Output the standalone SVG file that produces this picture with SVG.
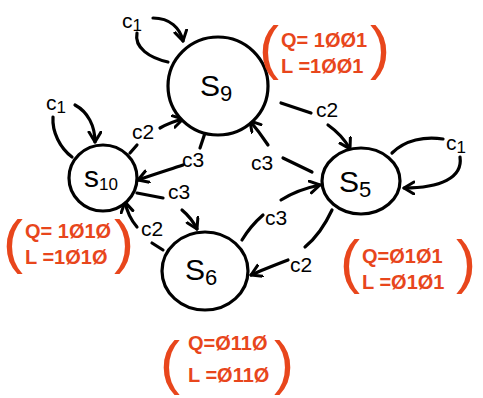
<svg xmlns="http://www.w3.org/2000/svg" width="483" height="398" viewBox="0 0 483 398">
<defs>
<marker id="ah" markerUnits="userSpaceOnUse" markerWidth="16" markerHeight="16" refX="11" refY="7" orient="auto">
<path d="M1,1 L11,7 L1,13" fill="none" stroke="#000" stroke-width="3" stroke-linecap="round" stroke-linejoin="round"/>
</marker>
</defs>
<style>
.node{fill:#fff;stroke:#000;stroke-width:3.2}
.edge{fill:none;stroke:#000;stroke-width:3.2;stroke-linecap:round}
.arr{marker-end:url(#ah)}
.lbl{font-family:"Liberation Sans",sans-serif;font-size:21px;fill:#000}
.sl{font-family:"Liberation Sans",sans-serif;font-size:30px;fill:#000}
.red{font-family:"Liberation Sans",sans-serif;font-size:20px;font-weight:bold;fill:#e8461c}
.par{font-family:"Liberation Sans",sans-serif;font-size:60px;fill:#e8461c}
</style>
<rect width="483" height="398" fill="#fff"/>
<g id="connectors">
<path class="edge" d="M168,62 C150,58 134,48 137,33"/>
<path class="edge arr" d="M153,18 C170,18 180,28 183,41"/>
<path class="edge" d="M72,157 C60,148 52,132 53,117"/>
<path class="edge arr" d="M75,105 C88,112 95,126 95,142"/>
<path class="edge" d="M392,153 C405,140 425,136 443,139"/>
<path class="edge arr" d="M460,157 C463,178 440,188 404,188"/>
<path class="edge" d="M281,103 L311,113"/>
<path class="edge arr" d="M328,125 C338,132 345,140 350,149"/>
<path class="edge" d="M312,172 L283,158"/>
<path class="edge arr" d="M268,145 C262,136 256,128 250,121"/>
<path class="edge" d="M242,240 C248,230 255,222 263,215"/>
<path class="edge arr" d="M281,200 C292,193 305,188 320,185"/>
<path class="edge" d="M332,210 C325,225 316,238 305,247"/>
<path class="edge arr" d="M288,260 C275,265 262,270 251,275"/>
<path class="edge" d="M130,153 L137,145"/>
<path class="edge arr" d="M160,128 C167,124 175,121 183,119"/>
<path class="edge" d="M207,127 L200,148"/>
<path class="edge arr" d="M183,165 C168,170 152,175 138,180"/>
<path class="edge" d="M137,193 L163,198"/>
<path class="edge arr" d="M182,210 C188,215 193,221 197,229"/>
<path class="edge" d="M163,250 L152,243"/>
<path class="edge arr" d="M137,227 C131,220 127,212 125,202"/>
</g>
<g id="labels">
<text class="lbl" x="122" y="28">c<tspan font-size="17" dy="3">1</tspan></text>
<text class="lbl" x="46" y="110">c<tspan font-size="17" dy="3">1</tspan></text>
<text class="lbl" x="446" y="150">c<tspan font-size="17" dy="3">1</tspan></text>
<text class="lbl" x="316" y="117">c2</text>
<text class="lbl" x="251" y="170">c3</text>
<text class="lbl" x="265" y="225">c3</text>
<text class="lbl" x="290" y="272">c2</text>
<text class="lbl" x="132" y="139">c2</text>
<text class="lbl" x="182" y="167">c3</text>
<text class="lbl" x="168" y="199">c3</text>
<text class="lbl" x="141" y="236">c2</text>
</g>
<g id="S9">
<ellipse class="node" cx="218" cy="86" rx="50" ry="49"/>
<text class="sl" x="200" y="96">S<tspan font-size="22" dy="5">9</tspan></text>
</g>
<g id="S10">
<ellipse class="node" cx="103" cy="178" rx="34" ry="33"/>
<text class="sl" x="84" y="187" font-size="24">s<tspan font-size="17" dy="3">10</tspan></text>
</g>
<g id="S5">
<ellipse class="node" cx="361" cy="181" rx="39" ry="33"/>
<text class="sl" x="339" y="192">S<tspan font-size="22" dy="5">5</tspan></text>
</g>
<g id="S6">
<ellipse class="node" cx="205" cy="271" rx="43" ry="39"/>
<text class="sl" x="185" y="280">S<tspan font-size="22" dy="5">6</tspan></text>
</g>
<g id="annotations">
<text class="par" x="259" y="68">(</text>
<text class="red" x="281" y="47">Q= 1ØØ1</text>
<text class="red" x="281" y="73">L =1ØØ1</text>
<text class="par" x="370" y="68">)</text>
<text class="par" x="3" y="262">(</text>
<text class="red" x="25" y="238">Q= 1Ø1Ø</text>
<text class="red" x="25" y="264">L =1Ø1Ø</text>
<text class="par" x="114" y="262">)</text>
<text class="par" x="340" y="282">(</text>
<text class="red" x="362" y="263" font-size="22">Q=Ø1Ø1</text>
<text class="red" x="362" y="289" font-size="22">L =Ø1Ø1</text>
<text class="par" x="456" y="282">)</text>
<text class="par" x="160" y="383" font-size="80">(</text>
<text class="red" x="188" y="350">Q=Ø11Ø</text>
<text class="red" x="188" y="382">L =Ø11Ø</text>
<text class="par" x="274" y="383" font-size="80">)</text>
</g>
</svg>
